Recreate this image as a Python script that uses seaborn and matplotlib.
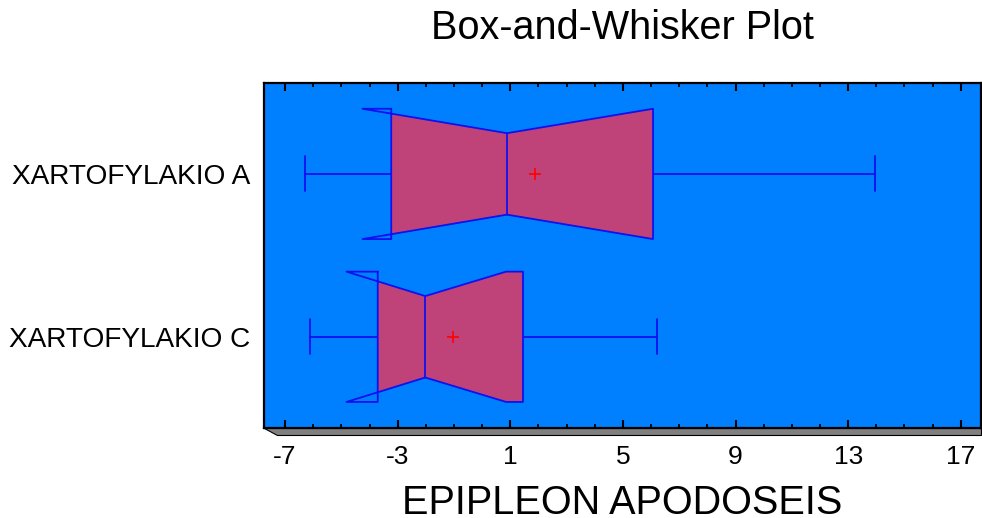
import numpy as np
import pandas as pd
import seaborn as sns
import matplotlib
matplotlib.use("Agg")
import matplotlib.pyplot as plt
from matplotlib.patches import Rectangle, Polygon
from matplotlib.ticker import FixedLocator, MultipleLocator

# ---- data ----
categories = ["XARTOFYLAKIO A", "XARTOFYLAKIO C"]
whisker_low = [-6.30, -6.10]
q1 = [-3.23, -3.71]
median = [0.88, -2.02]
q3 = [6.07, 1.45]
whisker_high = [13.95, 6.20]
mean = [1.88, -1.04]
notch_low = [-4.25, -4.82]
notch_high = [6.07, 0.85]
x_ticks = [-7, -3, 1, 5, 9, 13, 17]

title = "Box-and-Whisker Plot"
x_title = "EPIPLEON APODOSEIS"

# ---- style ----
sns.set_style("ticks")
plt.rcParams["font.family"] = ["Liberation Sans", "DejaVu Sans"]
plt.rcParams["text.color"] = "black"
plt.rcParams["xtick.color"] = "black"
plt.rcParams["ytick.color"] = "black"
plt.rcParams["axes.labelcolor"] = "black"

BG = "#0080FF"
FILL = "#BF4378"
EDGE = "#1010F0"

fig = plt.figure(figsize=(9.82, 5.18), dpi=100)
ax = fig.add_axes([264 / 982, 1 - 428 / 518, 717 / 982, 345.3 / 518])
ax.set_facecolor(BG)

positions = np.arange(len(categories))
half_w = 0.40
notch_w = 0.25
cap_w = 0.215

# whiskers and caps through matplotlib's bxp
stats = []
for i in range(len(categories)):
    stats.append(dict(med=median[i], q1=q1[i], q3=q3[i], whislo=whisker_low[i],
                      whishi=whisker_high[i], fliers=[], mean=mean[i], label=categories[i]))
lp = dict(color=EDGE, linewidth=1.3)
try:
    ax.bxp(stats, positions=positions, orientation="horizontal", showbox=False,
           showfliers=False, showmeans=False, capwidths=[cap_w] * len(categories),
           whiskerprops=lp, capprops=lp, medianprops=dict(visible=False), manage_ticks=False)
except TypeError:
    ax.bxp(stats, positions=positions, vert=False, showbox=False,
           showfliers=False, showmeans=False, capwidths=[cap_w] * len(categories),
           whiskerprops=lp, capprops=lp, medianprops=dict(visible=False), manage_ticks=False)

# notched boxes
for i, p in enumerate(positions):
    xs = [q1[i], q1[i], notch_low[i], median[i], notch_high[i], q3[i], q3[i],
          notch_high[i], median[i], notch_low[i], q1[i]]
    ys = [p - half_w, p + half_w, p + half_w, p + notch_w, p + half_w, p + half_w,
          p - half_w, p - half_w, p - notch_w, p - half_w, p - half_w]
    poly = ax.fill(xs, ys, color=FILL, zorder=2, linewidth=0)[0]
    clip = Rectangle((q1[i], p - half_w), q3[i] - q1[i], 2 * half_w, transform=ax.transData)
    poly.set_clip_path(clip)
    ax.plot(xs, ys, color=EDGE, linewidth=1.3, zorder=3)
    ax.plot([median[i], median[i]], [p - notch_w, p + notch_w], color=EDGE, linewidth=1.3, zorder=3)

# means
df_mean = pd.DataFrame({"mean": mean, "pos": positions})
sns.scatterplot(data=df_mean, x="mean", y="pos", marker="+", color="red", s=70,
                linewidth=1.2, zorder=4, ax=ax, legend=False)

ax.set_xlim(-7.75, 17.72)
ax.set_ylim(1.56, -0.56)
ax.set_xlabel("")
ax.set_ylabel("")
ax.yaxis.set_major_locator(FixedLocator(positions))
ax.set_yticklabels(categories, fontsize=20.2)
ax.xaxis.set_major_locator(FixedLocator(x_ticks))
ax.xaxis.set_minor_locator(MultipleLocator(1))
ax.set_xticklabels([str(t) for t in x_ticks], fontsize=19)
ax.tick_params(axis="y", length=0, pad=10)
ax.tick_params(axis="x", which="major", direction="in", length=5.5, width=1.5,
               top=True, bottom=True, pad=12, color="black")
ax.tick_params(axis="x", which="minor", direction="in", length=3.2, width=1.3,
               top=True, bottom=True, color="black")
for s in ax.spines.values():
    s.set_visible(True)
    s.set_color("black")
    s.set_linewidth(1.6)

# 3D floor shadow under the plot area
ax_h = 345.3
ax_wpx = 717.0
shadow = Polygon([(0, 0), (1, 0), (1, -7 / ax_h), (13 / ax_wpx, -7 / ax_h)],
                 closed=True, transform=ax.transAxes, facecolor="#808080",
                 edgecolor="black", linewidth=0.8, clip_on=False, zorder=0)
ax.add_patch(shadow)

cx = (264 + 981) / 2 / 982
fig.text(cx, 1 - 39.3 / 518, title, ha="center", va="baseline", fontsize=28.5)
fig.text(cx, 1 - 513.5 / 518, x_title, ha="center", va="baseline", fontsize=28.5)

fig.savefig("out.png", dpi=100)
